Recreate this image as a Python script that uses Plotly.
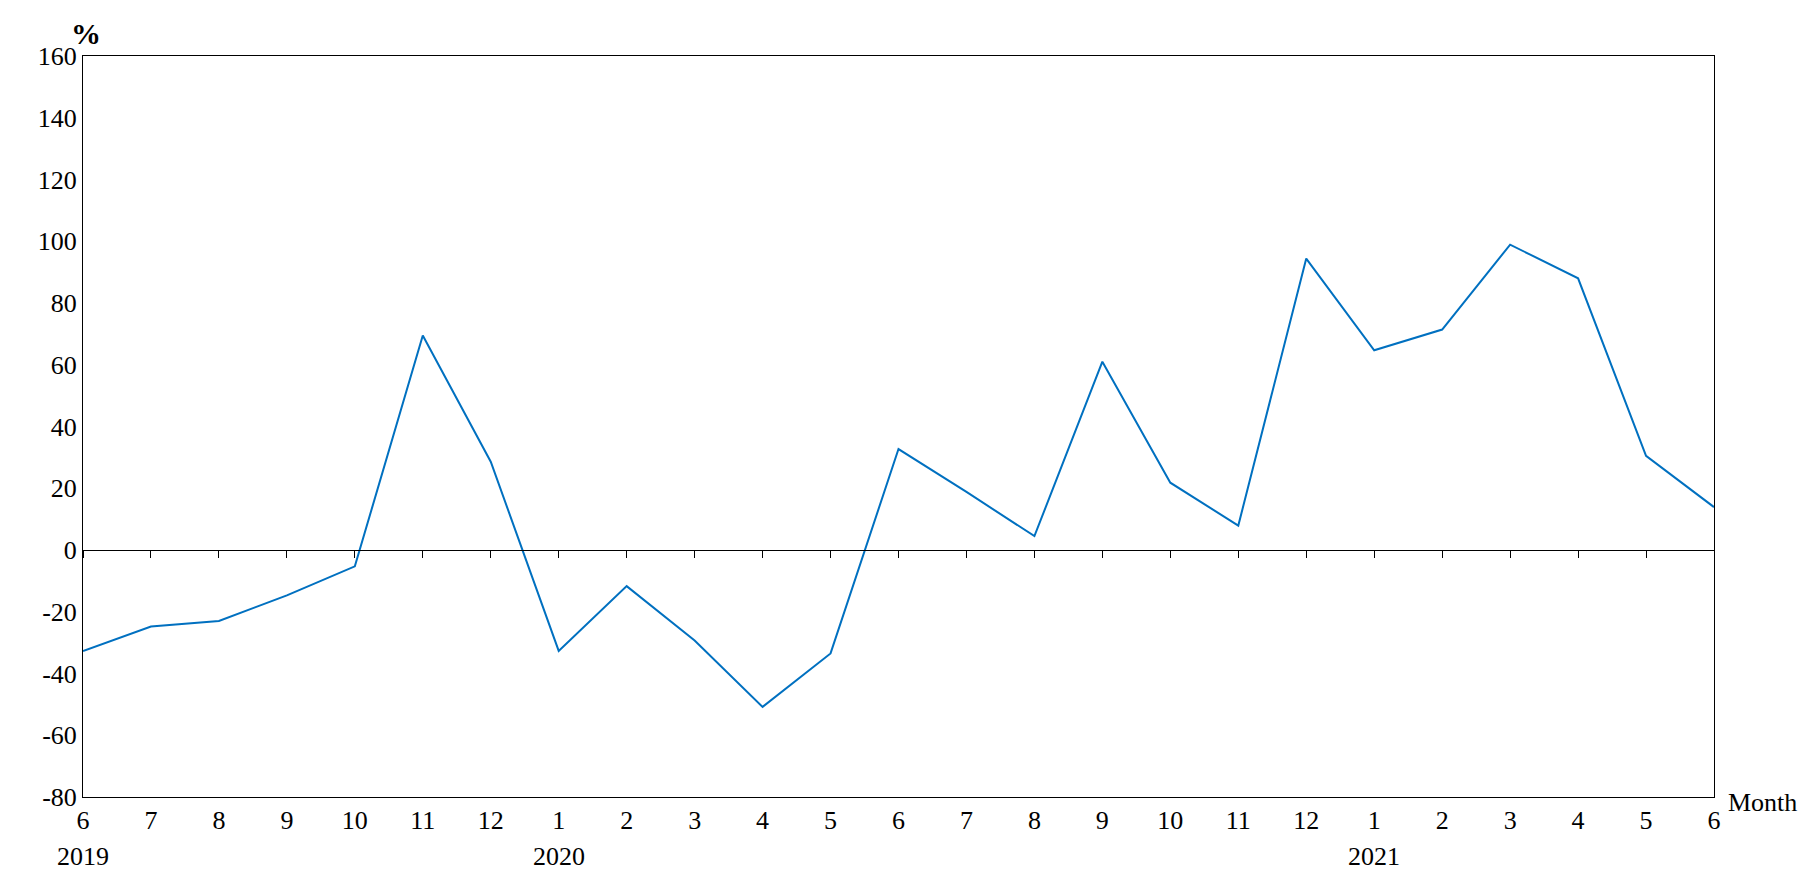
import plotly.graph_objects as go

months = ["6", "7", "8", "9", "10", "11", "12", "1", "2", "3", "4", "5", "6",
          "7", "8", "9", "10", "11", "12", "1", "2", "3", "4", "5", "6"]
values = [-32.7, -24.8, -23.0, -14.7, -5.3, 69.5, 28.6, -32.7, -11.7, -29.3, -50.8, -33.5,
          32.7, 18.8, 4.5, 61.0, 21.8, 7.9, 94.4, 64.7, 71.4, 98.9, 88.0, 30.5, 13.9]
years = {0: "2019", 7: "2020", 19: "2021"}
y_ticks = list(range(-80, 161, 20))

x = list(range(len(values)))
font = dict(family="Liberation Serif", size=26, color="black")

fig = go.Figure()
fig.add_trace(go.Scatter(x=x, y=values, mode="lines",
                         line=dict(color="#0070c0", width=2), showlegend=False))
fig.add_trace(go.Scatter(x=[0], y=[None], xaxis="x2", showlegend=False))

fig.update_layout(
    width=1818, height=876, plot_bgcolor="white", paper_bgcolor="white",
    margin=dict(l=75, r=112, t=48, b=87), font=font,
    xaxis=dict(range=[0, 24], tickvals=x, ticktext=months, showgrid=False,
               showline=True, linecolor="black", mirror=True, ticks="",
               zeroline=False, tickfont=font),
    xaxis2=dict(range=[0, 24], overlaying="x", anchor="free", position=1/3,
                tickvals=x, showticklabels=False, ticks="outside", ticklen=7,
                tickcolor="black", showline=True, linecolor="black", linewidth=1,
                showgrid=False, zeroline=False),
    yaxis=dict(range=[-80, 160], tickvals=y_ticks, ticktext=[str(v) for v in y_ticks],
               showgrid=False, showline=True, linecolor="black", mirror=True,
               ticks="", zeroline=False, tickfont=font),
)

for i, yr in years.items():
    fig.add_annotation(x=i, y=0, yref="paper", yshift=-76, text=yr,
                       showarrow=False, font=font)
fig.add_annotation(x=1, xref="paper", y=0, yref="paper", xanchor="left",
                   yshift=-22, xshift=12, text="Month", showarrow=False, font=font)
fig.add_annotation(x=0, xref="paper", y=1, yref="paper", xanchor="left",
                   yanchor="bottom", xshift=-14, yshift=4, text="<b>%</b>",
                   showarrow=False, font=dict(family="Liberation Serif", size=30, color="black"))

fig.write_html("out.html")
